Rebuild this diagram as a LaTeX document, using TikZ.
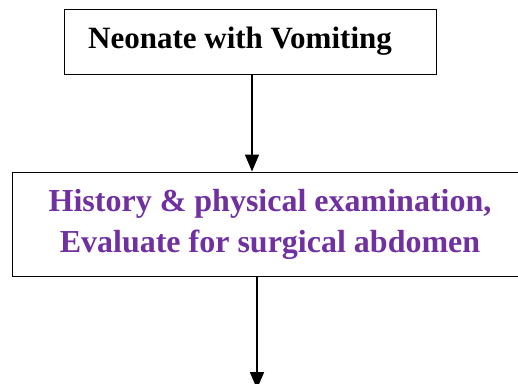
\documentclass[tikz,border=0pt]{standalone}
\usepackage{fontspec}
\setmainfont{Liberation Serif}
\usetikzlibrary{arrows.meta}
\definecolor{wordpurple}{RGB}{112,48,160}
\tikzset{
  flowbox/.style={draw,line width=1pt,inner sep=0pt,font=\fontsize{31}{38}\selectfont\bfseries},
  flowarrow/.style={line width=1.6pt,-{Triangle[width=14pt,length=17pt]}}
}
\begin{document}
\begin{tikzpicture}[x=1pt,y=1pt]
\clip (0,0) rectangle (518,-383);
\node[flowbox,minimum width=372pt,minimum height=65pt] (start) at (250,-41.5) {Neonate with Vomiting\hspace{20pt}\null};
\node[flowbox,font=\fontsize{32}{41}\selectfont\bfseries,text=wordpurple,align=center,minimum width=516pt,minimum height=104pt] (exam) at (270,-224) {History \& physical examination,\\Evaluate for surgical abdomen};
\coordinate (next) at (257,-389);
\draw[flowarrow] ([xshift=2pt]start.south) -- ([xshift=2pt]start.south |- exam.north);
\draw[flowarrow] (exam.south -| next) -- (next);
\end{tikzpicture}
\end{document}
